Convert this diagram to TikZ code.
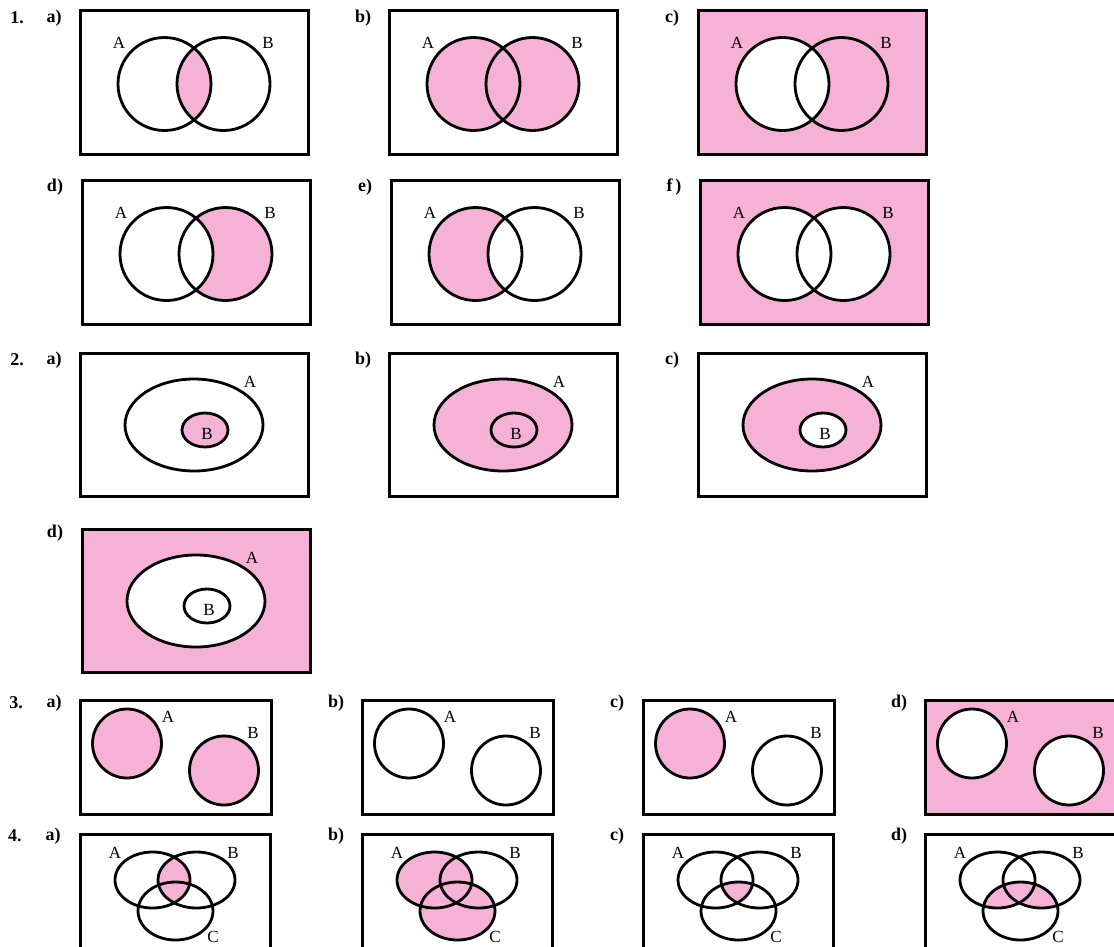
\documentclass[tikz,border=0pt]{standalone}
\usepackage{fontspec}
\setmainfont{Liberation Serif}
\definecolor{vpink}{RGB}{245,178,214}
\tikzset{
  outline/.style={draw=black, line width=2.8pt},
  frame/.style={draw=black, line width=3pt},
  setlbl/.style={font=\fontsize{17}{20}\selectfont, inner sep=0pt},
  numlbl/.style={font=\bfseries\fontsize{18}{20}\selectfont, inner sep=0pt},
}
% two overlapping circles
\newcommand\panelTwo[3]{%
  \begin{scope}[shift={(#1,#2)}]
    #3
    \draw[outline] (84.5,74) circle[radius=46.5];
    \draw[outline] (143.5,74) circle[radius=46.5];
    \draw[frame] (0,0) rectangle (228,144);
    \node[setlbl] at (39,33) {A};
    \node[setlbl] at (188,33) {B};
  \end{scope}}
% nested ellipses
\newcommand\panelNest[3]{%
  \begin{scope}[shift={(#1,#2)}]
    #3
    \draw[outline] (114,72) ellipse[x radius=69, y radius=46];
    \draw[outline] (125,77) ellipse[x radius=23, y radius=17];
    \draw[frame] (0,0) rectangle (228,143);
    \node[setlbl] at (170,29) {A};
    \node[setlbl] at (127,81) {B};
  \end{scope}}
% separate circles
\newcommand\panelSep[3]{%
  \begin{scope}[shift={(#1,#2)}]
    #3
    \draw[outline] (47,43.5) circle[radius=34.5];
    \draw[outline] (144,70.5) circle[radius=34.5];
    \draw[frame] (0,0) rectangle (191,114);
    \node[setlbl] at (88,17) {A};
    \node[setlbl] at (173,33) {B};
  \end{scope}}
% three ellipses
\newcommand\panelThree[3]{%
  \begin{scope}[shift={(#1,#2)}]
    #3
    \draw[outline] (72.5,46) ellipse[x radius=37.5, y radius=28];
    \draw[outline] (116.5,46) ellipse[x radius=38.5, y radius=28];
    \draw[outline] (95.5,77) ellipse[x radius=37.5, y radius=29];
    \draw[frame] (0,0) rectangle (190,150);
    \node[setlbl] at (35,19) {A};
    \node[setlbl] at (153,19) {B};
    \node[setlbl] at (133,103) {C};
  \end{scope}}
\begin{document}
\begin{tikzpicture}[x=1pt,y=-1pt]
\useasboundingbox (0,0) rectangle (1114,946);
\clip (0,0) rectangle (1114,946);
\fill[white] (0,0) rectangle (1114,946);

% ---------- problem 1 ----------
\node[numlbl] (n1) at (17,18) {1.};
\node[numlbl] (l1a) at (54,18) {a)};
\node[numlbl] (l1b) at (363,18) {b)};
\node[numlbl] (l1c) at (672,18) {c)};
\node[numlbl] (l1d) at (55,187) {d)};
\node[numlbl] (l1e) at (365,187) {e)};
\node[numlbl] (l1f) at (674,187) {f\,)};

\panelTwo{80}{10}{%
  \begin{scope}\clip (84.5,74) circle[radius=46.5];
    \fill[vpink] (143.5,74) circle[radius=46.5];\end{scope}}
\panelTwo{389}{10}{%
  \fill[vpink] (84.5,74) circle[radius=46.5];
  \fill[vpink] (143.5,74) circle[radius=46.5];}
\panelTwo{698}{10}{%
  \fill[vpink] (0,0) rectangle (228,144);
  \fill[white] (84.5,74) circle[radius=46.5];}
\panelTwo{82}{180}{%
  \fill[vpink] (143.5,74) circle[radius=46.5];
  \fill[white] (84.5,74) circle[radius=46.5];}
\panelTwo{391}{180}{%
  \fill[vpink] (84.5,74) circle[radius=46.5];
  \fill[white] (143.5,74) circle[radius=46.5];}
\panelTwo{700}{180}{%
  \fill[vpink] (0,0) rectangle (228,144);
  \fill[white] (84.5,74) circle[radius=46.5];
  \fill[white] (143.5,74) circle[radius=46.5];}

% ---------- problem 2 ----------
\node[numlbl] (n2) at (17,360) {2.};
\node[numlbl] (l2a) at (54,360) {a)};
\node[numlbl] (l2b) at (363,360) {b)};
\node[numlbl] (l2c) at (672,360) {c)};
\node[numlbl] (l2d) at (55,533) {d)};

\panelNest{80}{353}{%
  \fill[vpink] (125,77) ellipse[x radius=23, y radius=17];}
\panelNest{389}{353}{%
  \fill[vpink] (114,72) ellipse[x radius=69, y radius=46];}
\panelNest{698}{353}{%
  \fill[vpink] (114,72) ellipse[x radius=69, y radius=46];
  \fill[white] (125,77) ellipse[x radius=23, y radius=17];}
\panelNest{82}{529}{%
  \fill[vpink] (0,0) rectangle (228,143);
  \fill[white] (114,72) ellipse[x radius=69, y radius=46];}

% ---------- problem 3 ----------
\node[numlbl] (n3) at (16,703) {3.};
\node[numlbl] (l3a) at (54,703) {a)};
\node[numlbl] (l3b) at (336,703) {b)};
\node[numlbl] (l3c) at (617,703) {c)};
\node[numlbl] (l3d) at (899,703) {d)};

\panelSep{80}{700}{%
  \fill[vpink] (47,43.5) circle[radius=34.5];
  \fill[vpink] (144,70.5) circle[radius=34.5];}
\panelSep{362}{700}{}
\panelSep{643}{700}{%
  \fill[vpink] (47,43.5) circle[radius=34.5];}
\panelSep{925}{700}{%
  \fill[vpink] (0,0) rectangle (191,114);
  \fill[white] (47,43.5) circle[radius=34.5];
  \fill[white] (144,70.5) circle[radius=34.5];}

% ---------- problem 4 ----------
\node[numlbl] (n4) at (15,836) {4.};
\node[numlbl] (l4a) at (53,836) {a)};
\node[numlbl] (l4b) at (336,836) {b)};
\node[numlbl] (l4c) at (617,836) {c)};
\node[numlbl] (l4d) at (899,836) {d)};

\panelThree{80}{834}{%
  \begin{scope}\clip (72.5,46) ellipse[x radius=37.5, y radius=28];
    \fill[vpink] (116.5,46) ellipse[x radius=38.5, y radius=28];\end{scope}}
\panelThree{362}{834}{%
  \fill[vpink] (72.5,46) ellipse[x radius=37.5, y radius=28];
  \fill[vpink] (95.5,77) ellipse[x radius=37.5, y radius=29];}
\panelThree{643}{834}{%
  \begin{scope}\clip (72.5,46) ellipse[x radius=37.5, y radius=28];
    \clip (116.5,46) ellipse[x radius=38.5, y radius=28];
    \fill[vpink] (95.5,77) ellipse[x radius=37.5, y radius=29];\end{scope}}
\panelThree{925}{834}{%
  \begin{scope}\clip (95.5,77) ellipse[x radius=37.5, y radius=29];
    \fill[vpink] (72.5,46) ellipse[x radius=37.5, y radius=28];
    \fill[vpink] (116.5,46) ellipse[x radius=38.5, y radius=28];\end{scope}}
\end{tikzpicture}
\end{document}
